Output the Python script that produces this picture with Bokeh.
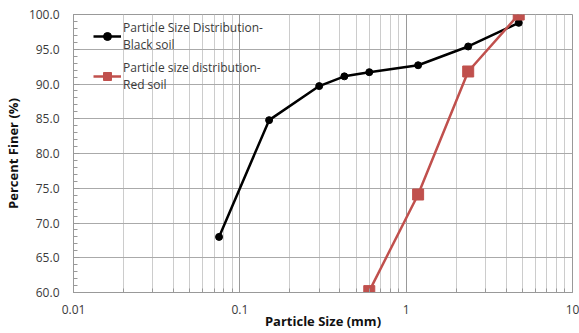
from bokeh.plotting import figure
from bokeh.models import FixedTicker, Legend, LegendItem, NumeralTickFormatter
from bokeh.embed import file_html
from bokeh.resources import INLINE

# Data
black_size = [0.075, 0.15, 0.3, 0.425, 0.6, 1.18, 2.36, 4.75]
black_finer = [68.0, 84.8, 89.7, 91.1, 91.7, 92.7, 95.4, 98.8]
red_size = [0.6, 1.18, 2.36, 4.75]
red_finer = [60.2, 74.1, 91.8, 100.0]
x_ticks = [0.01, 0.1, 1, 10]
x_tick_labels = ["0.01", "0.1", "1", "10"]
y_ticks = [60, 65, 70, 75, 80, 85, 90, 95, 100]

FONT = "Open Sans"
TXT = "#3a3a3a"

p = figure(width=579, height=333, x_axis_type="log", output_backend="svg",
           toolbar_location=None, x_range=(0.01, 10), y_range=(60, 100),
           min_border_left=73, min_border_right=7, min_border_top=14, min_border_bottom=41)
p.outline_line_color = "#999999"
p.background_fill_color = "white"

minor = [m * d for d in [0.01, 0.1, 1] for m in range(2, 10)]
p.xaxis.ticker = FixedTicker(ticks=x_ticks, minor_ticks=minor)
p.xaxis.major_label_overrides = {float(t): l for t, l in zip(x_ticks, x_tick_labels)}
p.yaxis.ticker = FixedTicker(ticks=y_ticks, minor_ticks=list(range(60, 101)))
p.yaxis.formatter = NumeralTickFormatter(format="0.0")

for ax in (p.xaxis[0], p.yaxis[0]):
    ax.axis_line_color = "#999999"
    ax.major_tick_line_color = "#999999"
    ax.minor_tick_line_color = "#999999"
    ax.major_tick_in = 6
    ax.major_tick_out = 0
    ax.minor_tick_in = 4
    ax.minor_tick_out = 0
    ax.major_label_text_font = FONT
    ax.major_label_text_font_size = "12px"
    ax.major_label_text_color = TXT
    ax.axis_label_text_font = FONT
    ax.axis_label_text_font_style = "bold"
    ax.axis_label_text_font_size = "13px"
    ax.axis_label_text_color = "#111111"

p.xaxis.axis_label = "Particle Size (mm)"
p.yaxis.axis_label = "Percent Finer (%)"
p.xaxis.major_label_standoff = 12
p.xaxis.axis_label_standoff = -5
p.yaxis.major_label_standoff = 14
p.yaxis.axis_label_standoff = 4

p.xgrid.grid_line_color = "#9a9a9a"
p.xgrid.minor_grid_line_color = "#cccccc"
p.ygrid.grid_line_color = "#aaaaaa"

bl = p.line(black_size, black_finer, line_color="black", line_width=2.5)
bm = p.scatter(black_size, black_finer, marker="circle", size=7, color="black")
rl = p.line(red_size, red_finer, line_color="#C0504D", line_width=2.5)
rm = p.scatter(red_size, red_finer, marker="square", size=11, color="#C0504D")

legend = Legend(items=[
    LegendItem(label="Particle Size Distribution-\nBlack soil", renderers=[bl, bm]),
    LegendItem(label="Particle size distribution-\nRed soil", renderers=[rl, rm]),
], location=(20, 199))
legend.border_line_color = None
legend.background_fill_alpha = 0
legend.label_text_font = FONT
legend.label_text_font_size = "12px"
legend.label_text_color = TXT
legend.label_text_line_height = 1.3
legend.glyph_width = 28
legend.spacing = 6
legend.padding = 5
legend.label_standoff = 2
p.add_layout(legend, "center")

open("out.html", "w").write(file_html(p, INLINE))
